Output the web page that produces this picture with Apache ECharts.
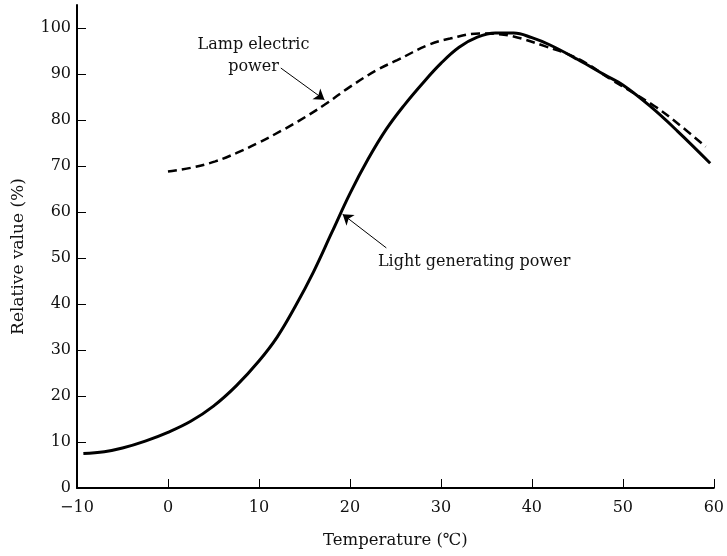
<!DOCTYPE html>
<html>
<head>
<meta charset="utf-8">
<script src="https://cdn.jsdelivr.net/npm/echarts@6/dist/echarts.min.js"></script>
<style>
html,body{margin:0;padding:0;background:#fff;}
#chart{width:727px;height:556px;}
</style>
</head>
<body>
<div id="chart"></div>
<script>
// Light generating power (solid): [temperature, relative value]
const lightTemp = [-9.3,-7,-5,-2.5,0,2.5,5,7.5,10,12,14,16,18,20,22,24,26,28,30,32,34,36,38,40,42,45,48,50,53,56,59.6];
const lightVal  = [7.5,7.9,8.7,10.2,12.1,14.5,17.8,22.2,27.6,32.8,39.5,47,55.5,64,71.5,78,83.3,88,92.3,95.8,98,98.9,98.9,97.9,96.3,93.2,89.8,87.6,83,77.6,70.6];
// Lamp electric power (dashed)
const lampTemp = [0,2.5,5.2,7.5,9.9,12.5,14.3,17.2,20,23,25.2,28.6,31,34.2,36,37.9,41.5,45.1,48.8,53.5,56,59.1];
const lampVal  = [68.8,69.6,71,72.8,75,77.7,79.7,83.3,87.2,90.9,93,96.3,97.7,98.8,98.7,98.2,96,93.3,88.7,83,79.3,74.2];
// Axis ticks
const xTicks = [-10,0,10,20,30,40,50,60];
const yTicks = [0,10,20,30,40,50,60,70,80,90,100];
// Annotations
const lampLabel = {text:'Lamp electric\npower', at:[9.4,94]};
const lampArrow = [[12.4,91.3],[17.2,84.4]];
const lightLabel = {text:'Light generating power', at:[33.65,49.1]};
const lightArrow = [[24,52.2],[19.2,59.5]];

const FONT = 'DejaVu Serif';
const zip = (a,b) => a.map((v,i)=>[v,b[i]]);

const chart = echarts.init(document.getElementById('chart'), null, {renderer:'canvas'});
chart.setOption({
  animation:false,
  backgroundColor:'#fff',
  grid:{left:77,right:7,top:5,bottom:68,containLabel:false},
  xAxis:{
    type:'value', min:-10, max:60, interval:10,
    name:'Temperature (℃)', nameLocation:'middle', nameGap:44,
    nameTextStyle:{fontFamily:FONT,fontSize:16.5,color:'#111'},
    axisLine:{show:true,onZero:false,lineStyle:{color:'#000',width:2}},
    axisTick:{show:true,inside:true,length:9,lineStyle:{color:'#000',width:1},customValues:xTicks},
    axisLabel:{fontFamily:FONT,fontSize:16,color:'#111',margin:12,customValues:xTicks,
      formatter:v=>String(v).replace('-','−')},
    splitLine:{show:false}
  },
  yAxis:{
    type:'value', min:0, max:105, interval:10,
    name:'Relative value (%)', nameLocation:'middle', nameGap:50,
    nameTextStyle:{fontFamily:FONT,fontSize:17,color:'#111',padding:[0,20,0,0]},
    axisLine:{show:true,onZero:false,lineStyle:{color:'#000',width:2}},
    axisTick:{show:true,inside:true,length:9,lineStyle:{color:'#000',width:1},customValues:yTicks},
    axisLabel:{fontFamily:FONT,fontSize:16,color:'#111',margin:6,customValues:yTicks},
    splitLine:{show:false}
  },
  series:[
    {
      name:'Light generating power', type:'line', data:zip(lightTemp,lightVal),
      smooth:0.4, showSymbol:false, symbol:'none',
      lineStyle:{color:'#000',width:3},
      markLine:{silent:true,symbol:['none','arrow'],symbolSize:10,
        lineStyle:{color:'#000',width:1,type:'solid'},label:{show:false},
        data:[[{coord:lightArrow[0]},{coord:lightArrow[1]}]]},
      markPoint:{silent:true,data:[{coord:lightLabel.at,symbol:'circle',symbolSize:1,
        itemStyle:{color:'rgba(0,0,0,0)'},
        label:{show:true,position:'inside',formatter:lightLabel.text,fontFamily:FONT,fontSize:16,color:'#111'}}]}
    },
    {
      name:'Lamp electric power', type:'line', data:zip(lampTemp,lampVal),
      smooth:0.4, showSymbol:false, symbol:'none',
      lineStyle:{color:'#000',width:2.5,type:[9,5]},
      markLine:{silent:true,symbol:['none','arrow'],symbolSize:10,
        lineStyle:{color:'#000',width:1,type:'solid'},label:{show:false},
        data:[[{coord:lampArrow[0]},{coord:lampArrow[1]}]]},
      markPoint:{silent:true,data:[{coord:lampLabel.at,symbol:'circle',symbolSize:1,
        itemStyle:{color:'rgba(0,0,0,0)'},
        label:{show:true,position:'inside',formatter:lampLabel.text,fontFamily:FONT,fontSize:16,lineHeight:22,color:'#111',align:'center'}}]}
    }
  ]
});
</script>
</body>
</html>
